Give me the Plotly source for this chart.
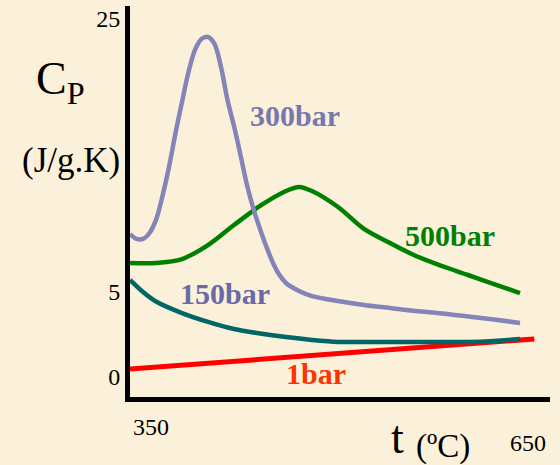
import plotly.graph_objects as go

# ---- data (t in degC, Cp in J/g.K as drawn) ----
t_1bar = [350, 661]
cp_1bar = [0.47, 2.24]

t_150bar = [350, 360, 370, 390, 410, 430, 450, 470, 490, 510, 530, 550, 570, 590, 610, 630, 650]
cp_150bar = [5.71, 5.0, 4.44, 3.76, 3.24, 2.82, 2.56, 2.35, 2.18, 2.06, 2.06, 2.06, 2.06,
             2.06, 2.06, 2.12, 2.24]

t_300bar = [350, 355, 360, 365, 370, 375, 380, 385, 390, 395, 400, 405, 410, 415, 420, 425,
            430, 435, 440, 445, 450, 455, 460, 465, 470, 480, 490, 510, 530, 550, 570, 590,
            610, 630, 650]
cp_300bar = [8.41, 8.12, 8.12, 8.47, 9.24, 10.65, 12.35, 14.35, 16.18, 17.94, 19.24, 19.88,
             20.0, 19.59, 18.24, 16.29, 14.76, 13.06, 11.29, 9.88, 8.71, 7.65, 6.71, 6.0,
             5.53, 5.06, 4.76, 4.47, 4.24, 4.06, 3.88, 3.74, 3.56, 3.38, 3.18]

t_500bar = [350, 370, 390, 410, 430, 450, 470, 480, 490, 510, 530, 550, 570, 590, 610, 630, 650]
cp_500bar = [6.71, 6.71, 6.94, 7.76, 8.94, 10.06, 10.94, 11.18, 10.94, 10.0, 8.71, 7.88,
             7.12, 6.53, 6.0, 5.47, 4.94]

y_tick_pos = [0, 5, 21.1]
y_tick_text = ["0", "5", "25"]
x_tick_text = ["350", "650"]

W, H = 560, 465
L, R, T, B = 130, 10, 6, 68
PW, PH = W - L - R, H - T - B


def PX(px):
    return (px - L) / PW


def PY(py):
    return (H - B - py) / PH


def XD(px):
    return 350 + (px - 130) / 1.3


def YD(py):
    return (377 - py) / 17


SERIF = "Liberation Serif"
bg = "#FBF1DA"

fig = go.Figure()
fig.add_trace(go.Scatter(x=t_1bar, y=cp_1bar, mode="lines",
                         line=dict(color="#FF0000", width=5), hoverinfo="skip"))
fig.add_trace(go.Scatter(x=t_150bar, y=cp_150bar, mode="lines",
                         line=dict(color="#006666", width=4.5, shape="spline", smoothing=0.9),
                         hoverinfo="skip"))
fig.add_trace(go.Scatter(x=t_500bar, y=cp_500bar, mode="lines",
                         line=dict(color="#008000", width=4.5, shape="spline", smoothing=0.9),
                         hoverinfo="skip"))
fig.add_trace(go.Scatter(x=t_300bar, y=cp_300bar, mode="lines",
                         line=dict(color="#8484B9", width=4.5, shape="spline", smoothing=0.9),
                         hoverinfo="skip"))

fig.update_layout(
    width=W, height=H,
    margin=dict(l=L, r=R, t=T, b=B, pad=0),
    paper_bgcolor=bg, plot_bgcolor=bg,
    showlegend=False,
    xaxis=dict(range=[XD(L), XD(W - R)], showgrid=False, zeroline=False, showticklabels=False,
               ticks="", showline=True, linecolor="black", linewidth=5),
    yaxis=dict(range=[YD(H - B), YD(T)], showgrid=False, zeroline=False,
               tickvals=y_tick_pos, ticktext=y_tick_text, ticks="",
               tickfont=dict(family=SERIF, size=24, color="black"),
               showline=True, linecolor="black", linewidth=5),
)

ann = []


def add(text, px, py, size, color="black", bold=False, xanchor="center"):
    if bold:
        text = "<b>" + text + "</b>"
    ann.append(dict(text=text, x=PX(px), y=PY(py), xref="paper", yref="paper",
                    xanchor=xanchor, yanchor="middle", showarrow=False,
                    font=dict(family=SERIF, size=size, color=color)))


add("C<sub>P</sub>", 60, 82, 46)
add("(J/g.K)", 71, 160, 35)
add("t", 397, 438, 46)
add("(ºC)", 443, 446, 33)
add(x_tick_text[0], 151, 427, 24)
add(x_tick_text[1], 528, 443, 24)
add("300bar", 295, 116, 30, "#7878B0", True)
add("500bar", 450, 235, 30, "#008000", True)
add("150bar", 225, 293, 30, "#6A6AA6", True)
add("1bar", 316, 373, 30, "#FF3300", True)
fig.update_layout(annotations=ann)

fig.write_html("out.html", config={"displayModeBar": False},
               post_script="document.body.style.margin='0px';"
                           "document.body.style.background='" + bg + "';")
